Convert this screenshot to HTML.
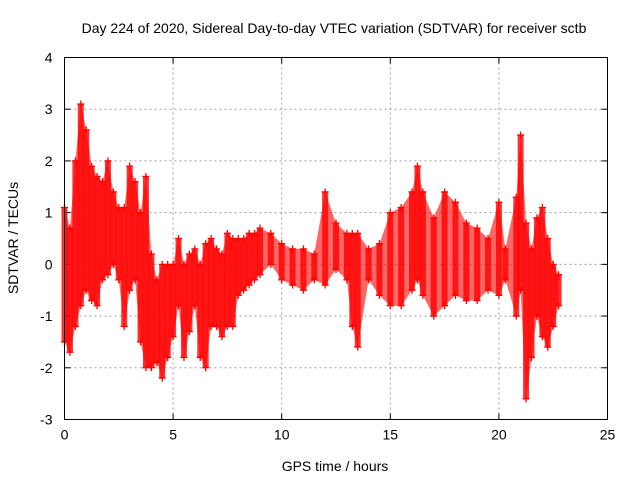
<!DOCTYPE html>
<html><head><meta charset="utf-8"><style>
body{margin:0;background:#fff;}
svg{display:block;font-family:"Liberation Sans",sans-serif;}
</style></head><body>
<svg id="chart" width="640" height="480">
<text x="334" y="33" font-size="14" text-anchor="middle">Day 224 of 2020, Sidereal Day-to-day VTEC variation (SDTVAR) for receiver sctb</text>
<text x="335" y="471" font-size="14" text-anchor="middle">GPS time / hours</text>
<text x="18" y="238" font-size="14" text-anchor="middle" transform="rotate(-90 18 238)">SDTVAR / TECUs</text>
<g id="grid"></g><g id="ticks"></g><g id="marks"></g>
<rect x="64.5" y="57.5" width="543" height="362" fill="none" stroke="#000"/>
</svg>
<script>
const xTicks=[0,5,10,15,20,25];
const yTicks=[-3,-2,-1,0,1,2,3,4];
const times=[0,0.25,0.5,0.75,1,1.25,1.5,1.75,2,2.25,2.5,2.75,3,3.25,3.5,3.75,4,4.25,4.5,4.75,5,5.25,5.5,5.75,6,6.25,6.5,6.75,7,7.25,7.5,7.75,8,8.25,8.5,8.75,9,9.5,10,10.5,11,11.5,12,12.5,13,13.25,13.5,14,14.5,15,15.5,16,16.25,16.5,17,17.5,18,18.5,19,19.5,20,20.3,20.8,21,21.25,21.5,21.75,22,22.25,22.5,22.75];
const lows=[-1.5,-1.7,-1.2,-0.8,-0.5,-0.7,-0.8,-0.3,-0.2,0,-0.3,-1.2,-0.5,-0.3,-1.5,-2,-2,-1.9,-2.2,-1.8,-1.4,-0.8,-1.8,-1.3,-0.8,-1.8,-2,-1.2,-1.2,-1.4,-1.2,-1.2,-0.6,-0.5,-0.4,-0.3,-0.2,0,-0.3,-0.4,-0.5,-0.3,-0.4,-0.1,-0.3,-1.2,-1.6,-0.3,-0.6,-0.8,-0.8,-0.5,-0.3,-0.6,-1,-0.8,-0.6,-0.7,-0.7,-0.5,-0.6,-0.3,-1,-0.5,-2.6,-1.8,-1,-1.4,-1.6,-1.2,-0.8];
const highs=[1.1,0.7,2,3.1,2.6,1.9,1.7,1.6,2,1.4,1.1,1.1,1.9,1.6,1,1.7,0.2,-0.3,0,0,0,0.5,0,0.2,0.3,0,0.4,0.5,0.3,0.2,0.6,0.5,0.5,0.5,0.6,0.6,0.7,0.6,0.4,0.3,0.3,0.2,1.4,0.8,0.6,0.6,0.6,0.3,0.4,1,1.1,1.4,1.9,1.4,0.9,1.4,1.2,0.8,0.7,0.5,1.2,0.3,1.3,2.5,0.8,0.3,0.9,1.1,0.5,0,-0.2];
const L=64.5,R=607.5,T=57.5,B=419.5;
const xs=v=>L+(v-0)/25*(R-L);
const ys=v=>B-(v+3)/7*(B-T);
const NS='http://www.w3.org/2000/svg';
function mk(tag,parent,attrs){const e=document.createElementNS(NS,tag);for(const k in attrs)e.setAttribute(k,attrs[k]);parent.appendChild(e);return e;}
const grid=document.getElementById('grid'),ticks=document.getElementById('ticks'),marks=document.getElementById('marks');
xTicks.forEach(v=>{const x=xs(v);
 if(v>0&&v<25){const g=mk('line',grid,{x1:x,x2:x,y1:T,y2:B,stroke:'#a0a0a0','stroke-dasharray':'2,3'});
 
 }
 const t=mk('text',ticks,{x:x,y:B+20,'font-size':14,'text-anchor':'middle'});t.textContent=v;
 
 
 mk('line',ticks,{x1:x,x2:x,y1:B,y2:B-6,stroke:'#000'});mk('line',ticks,{x1:x,x2:x,y1:T,y2:T+6,stroke:'#000'});});
yTicks.forEach(v=>{const y=ys(v);
 if(v>-3&&v<4){const g=mk('line',grid,{x1:L,x2:R,y1:y,y2:y,stroke:'#a0a0a0','stroke-dasharray':'2,3'});
 
 }
 const t=mk('text',ticks,{x:L-12,y:y+5,'font-size':14,'text-anchor':'end'});t.textContent=v;
 
 
 mk('line',ticks,{x1:L,x2:L+6,y1:y,y2:y,stroke:'#000'});mk('line',ticks,{x1:R,x2:R-6,y1:y,y2:y,stroke:'#000'});});
function plus(x,y){const p=mk('path',marks,{d:`M${x-3.5},${y}h7M${x},${y-3.5}v7`,stroke:'#f00','stroke-width':1.3});
 
 }
times.forEach((t,i)=>{const x=xs(t),y1=ys(highs[i]),y2=ys(lows[i]);
 if(i<times.length-1&&times[i+1]-t<0.6){const xn=xs(times[i+1]);
  const c=mk('polygon',marks,{points:`${x},${y1} ${xn},${ys(highs[i+1])} ${xn},${ys(lows[i+1])} ${x},${y2}`,fill:'#f00','fill-opacity':0.6});
  
  }
 const r=mk('rect',marks,{x:x-3,y:y1,width:6,height:Math.max(1,y2-y1),fill:'#f00','fill-opacity':0.8});
 
 
 plus(x,y1);plus(x,y2);
});
</script>
</body></html>
